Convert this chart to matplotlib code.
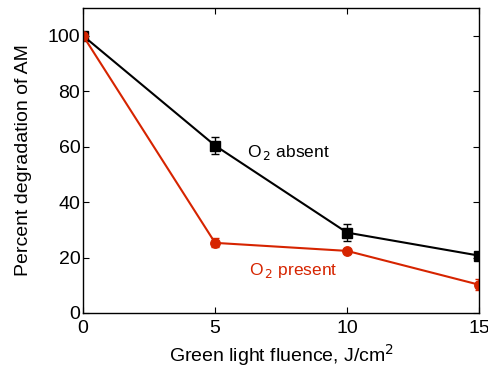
import numpy as np
import matplotlib.pyplot as plt

plt.rcParams['font.family'] = ['Liberation Sans', 'DejaVu Sans']

fluence = [0, 5, 10, 15]
absent = [100, 60.4, 29.0, 20.7]
absent_err = [0.5, 3.2, 3.2, 1.0]
present = [100, 25.3, 22.4, 10.2]
present_err = [0.5, 1.6, 0.8, 2.0]

red = (0.84, 0.14, 0.0)

fig = plt.figure(figsize=(4.89, 3.68), dpi=100)
ax = fig.add_axes([0.17, 0.1495, 0.8096, 0.8285])

ax.errorbar(fluence, absent, yerr=absent_err, color='black', marker='s', ms=7,
            lw=1.5, capsize=3, elinewidth=1, capthick=1)
ax.errorbar(fluence, present, yerr=present_err, color=red, marker='o', ms=6.8,
            lw=1.5, capsize=3, elinewidth=1, capthick=1)

ax.text(6.2, 58, r'O$_{\,2}$ absent', fontsize=12.5, va='center', ha='left')
ax.text(6.3, 15.5, r'O$_{\,2}$ present', fontsize=12.5, va='center', ha='left', color=red)

ax.set_xlim(0, 15)
ax.set_ylim(0, 110)
ax.set_xticks([0, 5, 10, 15])
ax.set_yticks([0, 20, 40, 60, 80, 100])
ax.tick_params(direction='in', top=True, right=True, labelsize=14, length=4)
ax.tick_params(axis='y', pad=2)
ax.tick_params(axis='x', pad=5)
ax.set_xlabel(r'Green light fluence, J/cm$^2$', fontsize=14, labelpad=4)
ax.set_ylabel('Percent degradation of AM', fontsize=14, labelpad=11)
for s in ax.spines.values():
    s.set_linewidth(1)

fig.savefig('out.png', dpi=100)
